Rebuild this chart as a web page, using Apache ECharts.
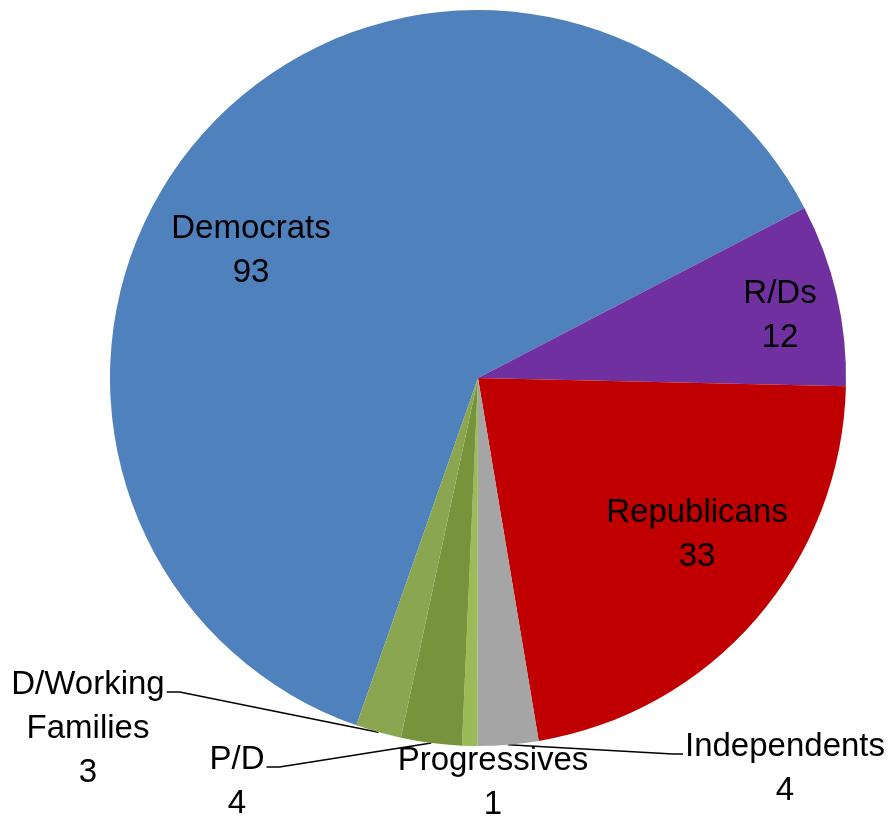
<!DOCTYPE html>
<html>
<head>
<meta charset="utf-8">
<script src="https://cdn.jsdelivr.net/npm/echarts@6/dist/echarts.min.js"></script>
<style>
  html, body { margin: 0; padding: 0; background: #ffffff; }
  #chart { width: 891px; height: 821px; }
</style>
</head>
<body>
<div id="chart"></div>
<script>
// Party affiliation counts, in clockwise order
const categories = ['Democrats', 'R/Ds', 'Republicans', 'Independents', 'Progressives', 'P/D', 'D/Working\nFamilies'];
const seats = [93, 12, 33, 4, 1, 4, 3];
const colors = ['#4F81BD', '#7030A0', '#C00000', '#A5A5A5', '#9BBB59', '#77933C', '#8BA650'];

// Label placement: block centre, and which side of the block a leader line attaches to
const labelSpots = [
  { x: 251, y: 251 },
  { x: 780, y: 316 },
  { x: 697, y: 535 },
  { x: 785, y: 769, side: 'left' },
  { x: 493, y: 783 },
  { x: 237, y: 782, side: 'right' },
  { x: 88,  y: 729, side: 'right' }
];
const outsideLine = [false, false, false, true, false, true, true];

const chart = echarts.init(document.getElementById('chart'), null, { renderer: 'canvas' });

const lineH = 44;

chart.setOption({
  animation: false,
  backgroundColor: '#ffffff',
  series: [{
    type: 'pie',
    center: [478, 378],
    radius: 368,
    startAngle: 250.7,
    clockwise: true,
    avoidLabelOverlap: false,
    label: {
      show: true,
      position: 'outside',
      formatter: '{b}\n{c}',
      fontFamily: 'Liberation Sans, Arial, sans-serif',
      fontSize: 33,
      lineHeight: lineH,
      color: '#000000',
      align: 'center'
    },
    labelLine: {
      show: true,
      length: 10,
      length2: 10,
      smooth: false,
      lineStyle: { color: '#000000', width: 1.5 }
    },
    labelLayout: function (params) {
      const spot = labelSpots[params.dataIndex];
      const out = { x: spot.x, y: spot.y, align: 'center', verticalAlign: 'middle' };
      const pts = params.labelLinePoints;
      if (spot.side && pts) {
        const w = params.labelRect.width;
        const lines = categories[params.dataIndex].split('\n').length + 1;
        const firstLineY = spot.y - (lines - 1) * lineH / 2;
        const attachY = firstLineY + 7;
        let end, bend;
        if (spot.side === 'right') {
          end = [spot.x + w / 2 + 2, attachY];
          bend = [end[0] + 13, attachY];
        } else {
          end = [spot.x - w / 2 - 2, attachY];
          bend = [end[0] - 10, attachY];
        }
        out.labelLinePoints = [pts[0], bend, end];
      }
      return out;
    },
    itemStyle: { borderWidth: 0 },
    emphasis: { disabled: true },
    data: categories.map(function (name, i) {
      return {
        name: name,
        value: seats[i],
        itemStyle: { color: colors[i] },
        labelLine: { show: outsideLine[i] }
      };
    })
  }]
});
</script>
</body>
</html>
